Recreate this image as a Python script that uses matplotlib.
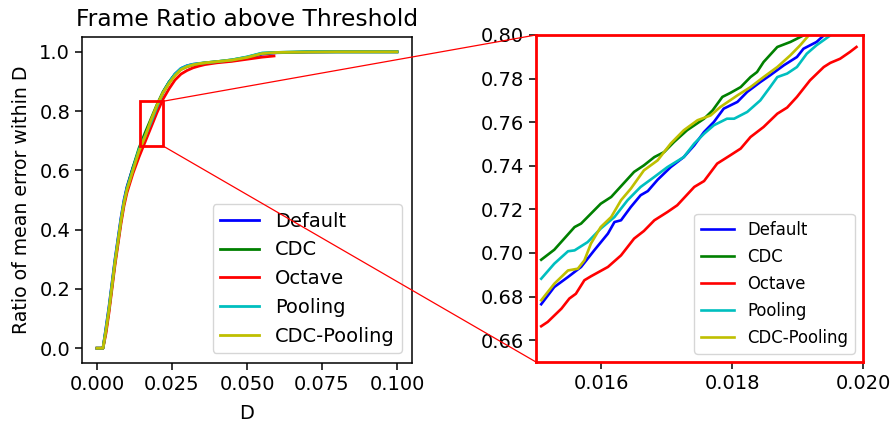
import matplotlib
matplotlib.use("Agg")
import matplotlib.pyplot as plt
from matplotlib.patches import Rectangle, ConnectionPatch

# ---------------- data ----------------
series_names = ["Default", "CDC", "Octave", "Pooling", "CDC-Pooling"]
series_colors = ["b", "g", "r", "c", "y"]

main_d = [0, 0.001, 0.002, 0.003, 0.004, 0.005, 0.006, 0.007, 0.008, 0.009,
          0.010, 0.012, 0.014, 0.016, 0.018, 0.020, 0.022, 0.024, 0.026, 0.028,
          0.030, 0.032, 0.034, 0.036, 0.038, 0.040, 0.045, 0.050, 0.055, 0.060,
          0.070, 0.080, 0.090, 0.100]
octave_d = main_d[:29] + [0.059]

main_default = [0, 0, 0.0, 0.07, 0.14, 0.22, 0.30, 0.37, 0.44, 0.50,
                0.545, 0.61, 0.665, 0.71, 0.766, 0.815, 0.862, 0.897, 0.925, 0.944,
                0.953, 0.958, 0.960, 0.962, 0.964, 0.966, 0.970, 0.978, 0.992, 0.997,
                0.999, 1.0, 1.0, 1.0]
main_cdc = [0, 0, 0.0, 0.06, 0.13, 0.21, 0.29, 0.36, 0.43, 0.49,
            0.54, 0.61, 0.675, 0.726, 0.774, 0.822, 0.865, 0.898, 0.924, 0.941,
            0.950, 0.956, 0.960, 0.963, 0.965, 0.967, 0.973, 0.982, 0.995, 0.998,
            1.0, 1.0, 1.0, 1.0]
main_octave = [0, 0, 0.0, 0.05, 0.12, 0.20, 0.28, 0.35, 0.42, 0.48,
               0.525, 0.59, 0.645, 0.695, 0.745, 0.795, 0.840, 0.875, 0.905, 0.925,
               0.937, 0.946, 0.952, 0.957, 0.960, 0.963, 0.968, 0.975, 0.982, 0.986]
main_pooling = [0, 0, 0.0, 0.065, 0.135, 0.215, 0.295, 0.365, 0.435, 0.495,
                0.54, 0.605, 0.67, 0.715, 0.762, 0.815, 0.862, 0.897, 0.925, 0.944,
                0.953, 0.958, 0.961, 0.963, 0.965, 0.967, 0.973, 0.983, 0.996, 0.998,
                1.0, 1.0, 1.0, 1.0]
main_cdcpool = [0, 0, 0.0, 0.06, 0.13, 0.21, 0.29, 0.36, 0.43, 0.49,
                0.535, 0.60, 0.665, 0.713, 0.770, 0.82, 0.862, 0.893, 0.92, 0.94,
                0.95, 0.956, 0.96, 0.963, 0.965, 0.967, 0.972, 0.981, 0.994, 0.998,
                0.999, 1.0, 1.0, 1.0]

# zoomed-in detail (inset)
z_default_d = [0.01508, 0.01528, 0.01549, 0.01569, 0.01589, 0.01610, 0.01620, 0.01630,
               0.01645, 0.01660, 0.01671, 0.01686, 0.01706, 0.01726, 0.01742, 0.01757,
               0.01772, 0.01787, 0.01808, 0.01823, 0.01843, 0.01858, 0.01879, 0.01899,
               0.01909, 0.01929, 0.01940]
z_default_v = [0.6765, 0.6844, 0.6890, 0.6936, 0.7012, 0.7089, 0.7142, 0.7150,
               0.7211, 0.7265, 0.7284, 0.7336, 0.7394, 0.7440, 0.7494, 0.7555,
               0.7601, 0.7662, 0.7693, 0.7739, 0.7784, 0.7815, 0.7861, 0.7899,
               0.7937, 0.7968, 0.7998]
z_cdc_d = [0.01508, 0.01528, 0.01559, 0.01569, 0.01599, 0.01615, 0.01650, 0.01665,
           0.01681, 0.01696, 0.01711, 0.01731, 0.01757, 0.01770, 0.01785, 0.01797,
           0.01813, 0.01828, 0.01838, 0.01848, 0.01869, 0.01889, 0.01909]
z_cdc_v = [0.6969, 0.7015, 0.7119, 0.7135, 0.7226, 0.7257, 0.7372, 0.7402,
           0.7440, 0.7463, 0.7509, 0.7563, 0.7616, 0.7654, 0.7716, 0.7734,
           0.7761, 0.7807, 0.7830, 0.7876, 0.7945, 0.7968, 0.7998]
z_octave_d = [0.01508, 0.01518, 0.01539, 0.01551, 0.01561, 0.01574, 0.01584, 0.01610,
              0.01630, 0.01650, 0.01665, 0.01681, 0.01701, 0.01716, 0.01742, 0.01757,
              0.01777, 0.01797, 0.01813, 0.01828, 0.01848, 0.01869, 0.01884, 0.01899,
              0.01919, 0.01940, 0.01950, 0.01965, 0.01980, 0.01990]
z_octave_v = [0.6664, 0.6684, 0.6745, 0.6791, 0.6813, 0.6875, 0.6893, 0.6936,
              0.6989, 0.7066, 0.7101, 0.7150, 0.7188, 0.7219, 0.7303, 0.7330,
              0.7410, 0.7448, 0.7479, 0.7532, 0.7578, 0.7639, 0.7667, 0.7716,
              0.7792, 0.7853, 0.7872, 0.7891, 0.7922, 0.7945]
z_pooling_d = [0.01508, 0.01528, 0.01549, 0.01559, 0.01579, 0.01599, 0.01620, 0.01640,
               0.01660, 0.01681, 0.01701, 0.01726, 0.01742, 0.01757, 0.01772, 0.01792,
               0.01803, 0.01823, 0.01843, 0.01858, 0.01869, 0.01884, 0.01899, 0.01914,
               0.01929, 0.01950]
z_pooling_v = [0.6882, 0.6951, 0.7008, 0.7012, 0.7050, 0.7112, 0.7165, 0.7242,
               0.7303, 0.7349, 0.7394, 0.7440, 0.7502, 0.7547, 0.7586, 0.7616,
               0.7616, 0.7647, 0.7700, 0.7761, 0.7807, 0.7823, 0.7853, 0.7914,
               0.7953, 0.7998]
z_cdcpool_d = [0.01508, 0.01528, 0.01549, 0.01564, 0.01574, 0.01584, 0.01599, 0.01615,
               0.01630, 0.01645, 0.01665, 0.01686, 0.01706, 0.01726, 0.01747, 0.01767,
               0.01782, 0.01808, 0.01828, 0.01848, 0.01869, 0.01889, 0.01904, 0.01917]
z_cdcpool_v = [0.6783, 0.6859, 0.6920, 0.6928, 0.6966, 0.7043, 0.7119, 0.7165,
               0.7242, 0.7295, 0.7379, 0.7425, 0.7502, 0.7563, 0.7609, 0.7631,
               0.7670, 0.7723, 0.7761, 0.7807, 0.7853, 0.7907, 0.7953, 0.7998]

main_x = [main_d, main_d, octave_d, main_d, main_d]
main_y = [main_default, main_cdc, main_octave, main_pooling, main_cdcpool]
zoom_x = [z_default_d, z_cdc_d, z_octave_d, z_pooling_d, z_cdcpool_d]
zoom_y = [z_default_v, z_cdc_v, z_octave_v, z_pooling_v, z_cdcpool_v]

main_xticks = [0.000, 0.025, 0.050, 0.075, 0.100]
main_yticks = [0.0, 0.2, 0.4, 0.6, 0.8, 1.0]
zoom_xticks = [0.016, 0.018, 0.020]
zoom_yticks = [0.66, 0.68, 0.70, 0.72, 0.74, 0.76, 0.78, 0.80]

# ---------------- figure ----------------
FS = 14
fig = plt.figure(figsize=(8.93, 4.23), dpi=100)
ax = fig.add_axes([0.0918, 0.1418, 0.3696, 0.7707])
ax2 = fig.add_axes([0.6002, 0.1442, 0.3662, 0.7731])

for xs, ys, name, c in zip(main_x, main_y, series_names, series_colors):
    ax.plot(xs, ys, color=c, lw=2.0, label=name)
ax.set_xticks(main_xticks)
ax.set_yticks(main_yticks)
ax.set_xticklabels([f"{t:.3f}" for t in main_xticks])
ax.set_yticklabels([f"{t:.1f}" for t in main_yticks])
ax.tick_params(labelsize=FS, width=1.1, length=5)
for s in ax.spines.values():
    s.set_linewidth(1.1)
ax.set_xlabel("D", fontsize=FS, labelpad=7)
ax.set_ylabel("Ratio of mean error within D", fontsize=13.6, labelpad=6)
ax.set_title("Frame Ratio above Threshold", fontsize=16.8, pad=8)
ax.legend(loc="lower right", fontsize=FS, labelspacing=0.5)

# highlight rectangle
rx0, rx1, ry0, ry1 = 0.0145, 0.0219, 0.683, 0.833
ax.add_patch(Rectangle((rx0, ry0), rx1 - rx0, ry1 - ry0, fill=False,
                       edgecolor="red", lw=2.0, zorder=5))

for xs, ys, name, c in zip(zoom_x, zoom_y, series_names, series_colors):
    ax2.plot(xs, ys, color=c, lw=1.9, label=name)
ax2.set_xlim(0.015, 0.020)
ax2.set_ylim(0.65, 0.80)
ax2.set_xticks(zoom_xticks)
ax2.set_yticks(zoom_yticks)
ax2.set_xticklabels([f"{t:.3f}" for t in zoom_xticks])
ax2.set_yticklabels([f"{t:.2f}" for t in zoom_yticks])
ax2.tick_params(labelsize=FS, width=1.1, length=5)
for s in ax2.spines.values():
    s.set_edgecolor("red")
    s.set_linewidth(2.0)
ax2.legend(loc="lower right", fontsize=11.9, labelspacing=0.55)

for (xa, ya), (xb, yb) in [((rx1, ry1), (0, 1)), ((rx1, ry0), (0, 0))]:
    con = ConnectionPatch(xyA=(xa, ya), coordsA=ax.transData,
                          xyB=(xb, yb), coordsB=ax2.transAxes,
                          color="red", lw=0.9)
    fig.add_artist(con)

fig.savefig("out.png", dpi=100)
